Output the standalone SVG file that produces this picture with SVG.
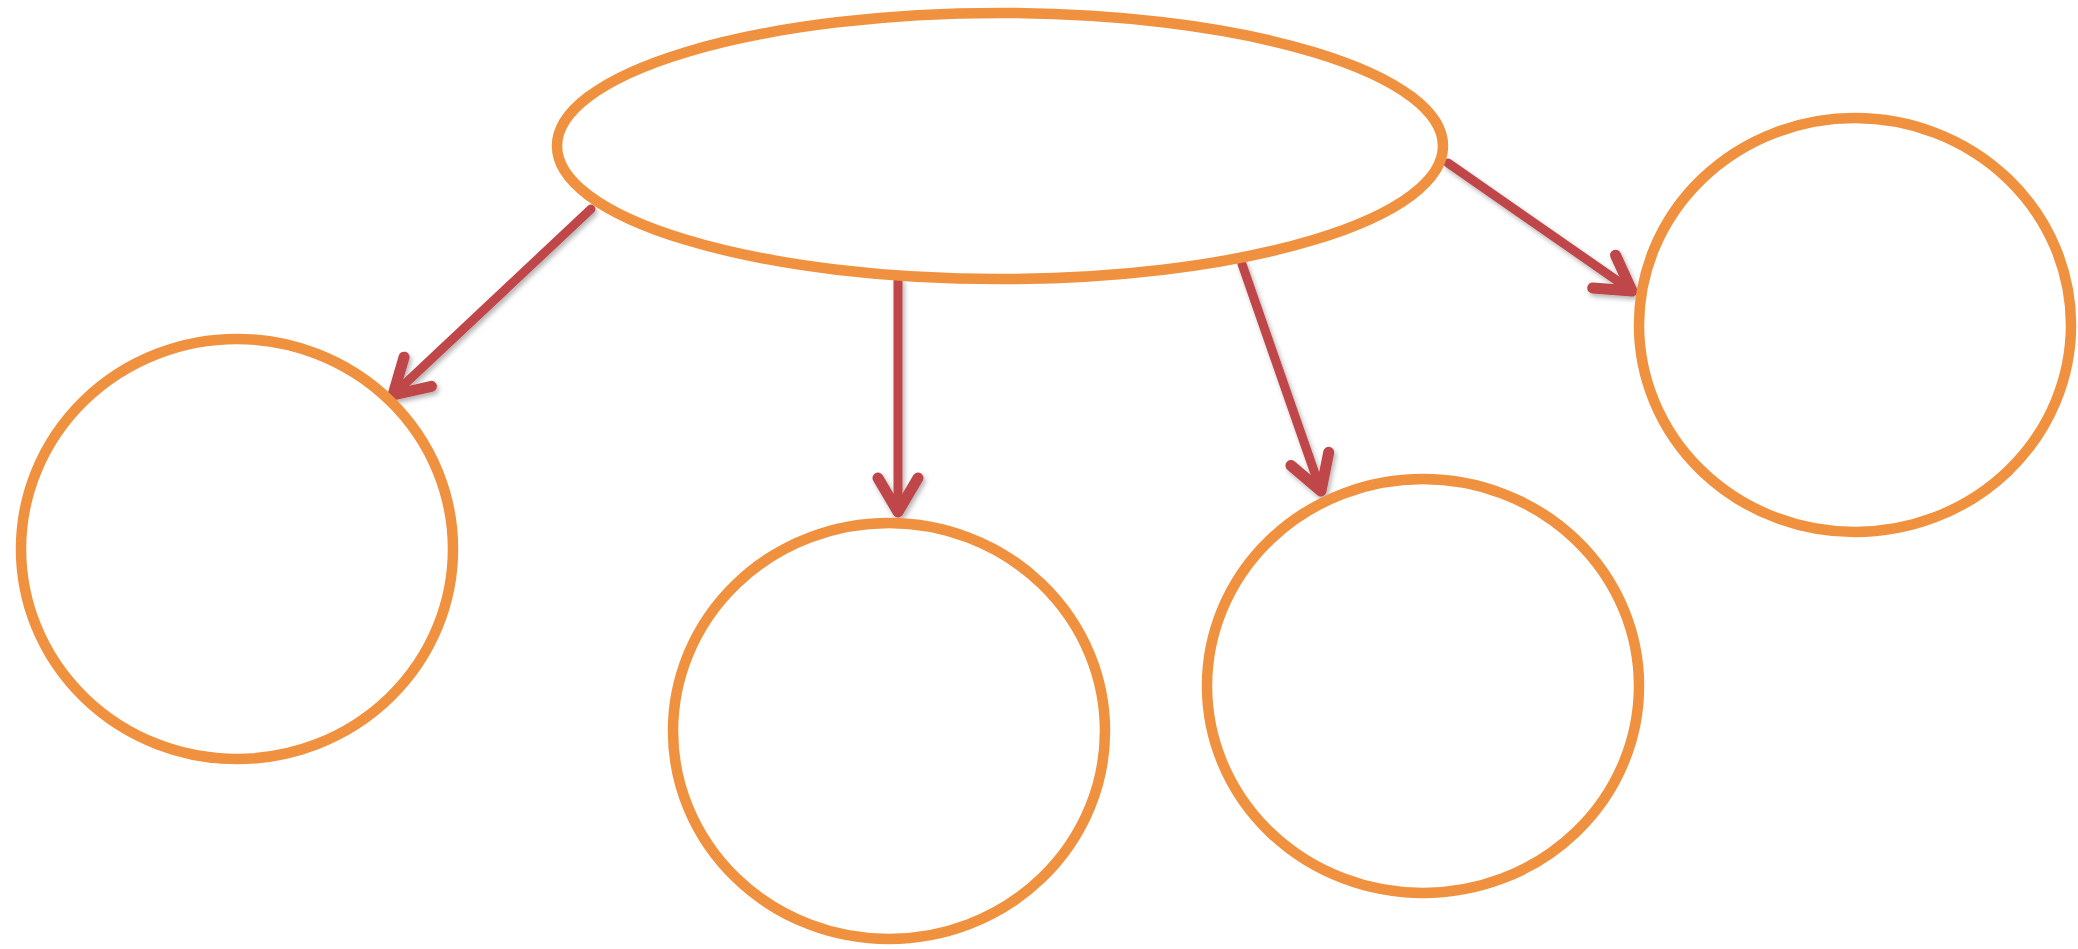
<svg xmlns="http://www.w3.org/2000/svg" width="2078" height="949" viewBox="0 0 2078 949">
  <style>
    .node { fill: none; stroke: #F0913F; stroke-width: 10.5; }
    .conn { fill: none; stroke: #C0464A; stroke-width: 9; stroke-linecap: round; filter: url(#shadow); }
  </style>
  <defs>
    <filter id="shadow" filterUnits="userSpaceOnUse" x="0" y="0" width="2078" height="949">
      <feGaussianBlur in="SourceAlpha" stdDeviation="2.5"/>
      <feOffset dx="2" dy="3" result="b"/>
      <feComponentTransfer><feFuncA type="linear" slope="0.3"/></feComponentTransfer>
      <feMerge><feMergeNode/><feMergeNode in="SourceGraphic"/></feMerge>
    </filter>
    <marker id="arrow" markerUnits="userSpaceOnUse" viewBox="-50 -30 60 60" markerWidth="60" markerHeight="60" refX="0" refY="0" orient="auto" overflow="visible">
      <path d="M-34,-20 L0,0 L-34,20" fill="none" stroke="#C0464A" stroke-width="11" stroke-linecap="round" stroke-linejoin="round"/>
    </marker>
  </defs>
  <rect width="2078" height="949" fill="#ffffff"/>
  <g id="connectors">
    <line class="conn" x1="591" y1="209" x2="393" y2="395" marker-end="url(#arrow)"/>
    <line class="conn" x1="898" y1="281" x2="898" y2="512" marker-end="url(#arrow)"/>
    <line class="conn" x1="1242" y1="264" x2="1321" y2="491" marker-end="url(#arrow)"/>
    <line class="conn" x1="1448" y1="163" x2="1632" y2="291" marker-end="url(#arrow)"/>
  </g>
  <g id="node-top">
    <ellipse class="node" cx="1000" cy="146" rx="443" ry="133"/>
  </g>
  <g id="node-1">
    <ellipse class="node" cx="237" cy="549" rx="216" ry="210"/>
  </g>
  <g id="node-2">
    <ellipse class="node" cx="889" cy="731" rx="216" ry="208"/>
  </g>
  <g id="node-3">
    <ellipse class="node" cx="1423" cy="686" rx="216" ry="207"/>
  </g>
  <g id="node-4">
    <ellipse class="node" cx="1855" cy="325" rx="216" ry="207"/>
  </g>
</svg>
